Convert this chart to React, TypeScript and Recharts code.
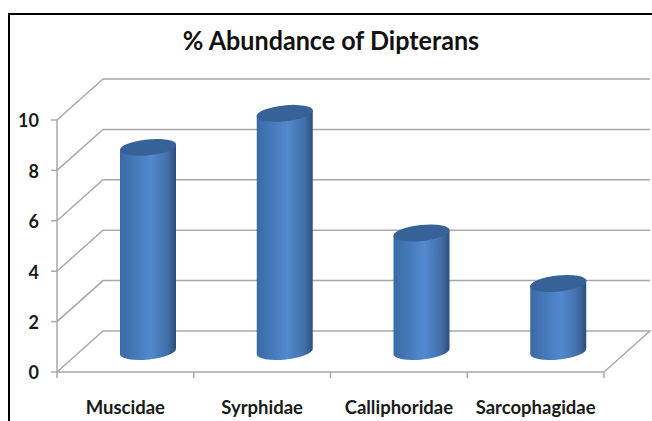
import { Bar, BarChart, CartesianGrid, XAxis, YAxis } from 'recharts'

const families = ['Muscidae', 'Syrphidae', 'Calliphoridae', 'Sarcophagidae']
const abundance = [8.1, 9.45, 4.7, 2.7]
const yTicks = [0, 2, 4, 6, 8, 10]

const chartData = families.map((name, i) => ({ name, value: abundance[i] }))

const depthX = 46
const depthY = 41
const gridColor = '#a9a9a9'
const labelFont = 'Lato, "Liberation Sans", sans-serif'

// back wall + side wall of the fake 3d box, the floor line also closes the right edge
function GridLine(props: any) {
  const { x1, x2, y1, y, height } = props
  const isFloor = Math.abs(y1 - (y + height)) < 1
  return (
    <path
      d={`M${x1},${y1} L${x1 + depthX},${y1 - depthY} L${x2 + depthX},${y1 - depthY}${isFloor ? ` L${x2},${y1}` : ''}`}
      fill="none"
      stroke={gridColor}
      strokeWidth={1.5}
    />
  )
}

// cylinder sits halfway into the box depth
function Cylinder(props: any) {
  const { x, y, width, height } = props
  const rx = width / 2
  const ry = 8
  const tilt = -6
  const cx = x + rx + depthX / 2
  const top = y - depthY / 2
  const bottom = y + height - depthY / 2
  const slope = 3
  return (
    <g>
      <path
        d={`M${cx - rx},${top + slope} L${cx + rx},${top - slope} L${cx + rx},${bottom - slope} A${rx},${ry} ${tilt} 0 1 ${cx - rx},${bottom + slope} Z`}
        fill="url(#cylinderBody)"
      />
      <ellipse cx={cx} cy={top} rx={rx + 0.3} ry={ry} transform={`rotate(${tilt} ${cx} ${top})`} fill="#376297" />
    </g>
  )
}

// tick marks sit on the band edges, labels in the band centre
function CategoryTick(props: any) {
  const { x, y, payload, index, width } = props
  const band = width / families.length
  const isLast = index === families.length - 1
  const markTop = y - 8
  return (
    <g>
      <line x1={x - band / 2} x2={x - band / 2} y1={markTop} y2={markTop + 6} stroke={gridColor} strokeWidth={1.5} />
      {isLast && <line x1={x + band / 2} x2={x + band / 2} y1={markTop} y2={markTop + 6} stroke={gridColor} strokeWidth={1.5} />}
      <text x={x} y={y + 34} textAnchor="middle" fill="#1a1a1a" fontSize={18.5} fontWeight={700} fontFamily={labelFont}>
        {payload.value}
      </text>
    </g>
  )
}

export default function App() {
  return (
    <div style={{ position: 'absolute', left: 0, top: 0, width: 652, height: 421, background: '#fff', overflow: 'hidden' }}>
      <div style={{ position: 'absolute', left: 8, top: 13, width: 660, height: 420, borderLeft: '2px solid #000', borderTop: '2px solid #000' }} />
      <div
        style={{
          position: 'absolute',
          left: 0,
          top: 24,
          width: 662,
          textAlign: 'center',
          fontFamily: labelFont,
          fontWeight: 700,
          fontSize: 27,
          lineHeight: '32px',
          color: '#111',
          transform: 'scaleX(0.93)',
        }}
      >
        % Abundance of Dipterans
      </div>
      <BarChart
        width={652}
        height={421}
        data={chartData}
        margin={{ top: 120, right: 48, bottom: 0, left: 0 }}
        style={{ position: 'absolute', left: 0, top: 0 }}
      >
        <defs>
          <linearGradient id="cylinderBody" x1="0" y1="0" x2="1" y2="0">
            <stop offset="0%" stopColor="#3a6aa6" />
            <stop offset="55%" stopColor="#5289cf" />
            <stop offset="85%" stopColor="#436fa8" />
            <stop offset="100%" stopColor="#2b4f7c" />
          </linearGradient>
        </defs>
        <CartesianGrid vertical={false} horizontal={GridLine as any} syncWithTicks />
        <XAxis
          dataKey="name"
          interval={0}
          height={49}
          tickLine={false}
          axisLine={{ stroke: gridColor, strokeWidth: 1.5 }}
          tick={CategoryTick as any}
        />
        <YAxis
          type="number"
          domain={[0, 10]}
          ticks={yTicks}
          width={57}
          tickMargin={12}
          tickLine={{ stroke: gridColor, strokeWidth: 1.5 }}
          axisLine={{ stroke: gridColor, strokeWidth: 1.5 }}
          tick={{ fill: '#1a1a1a', fontSize: 18, fontWeight: 700, fontFamily: labelFont, dy: 1 }}
        />
        <Bar dataKey="value" barSize={56} shape={Cylinder as any} isAnimationActive={false} />
      </BarChart>
    </div>
  )
}
